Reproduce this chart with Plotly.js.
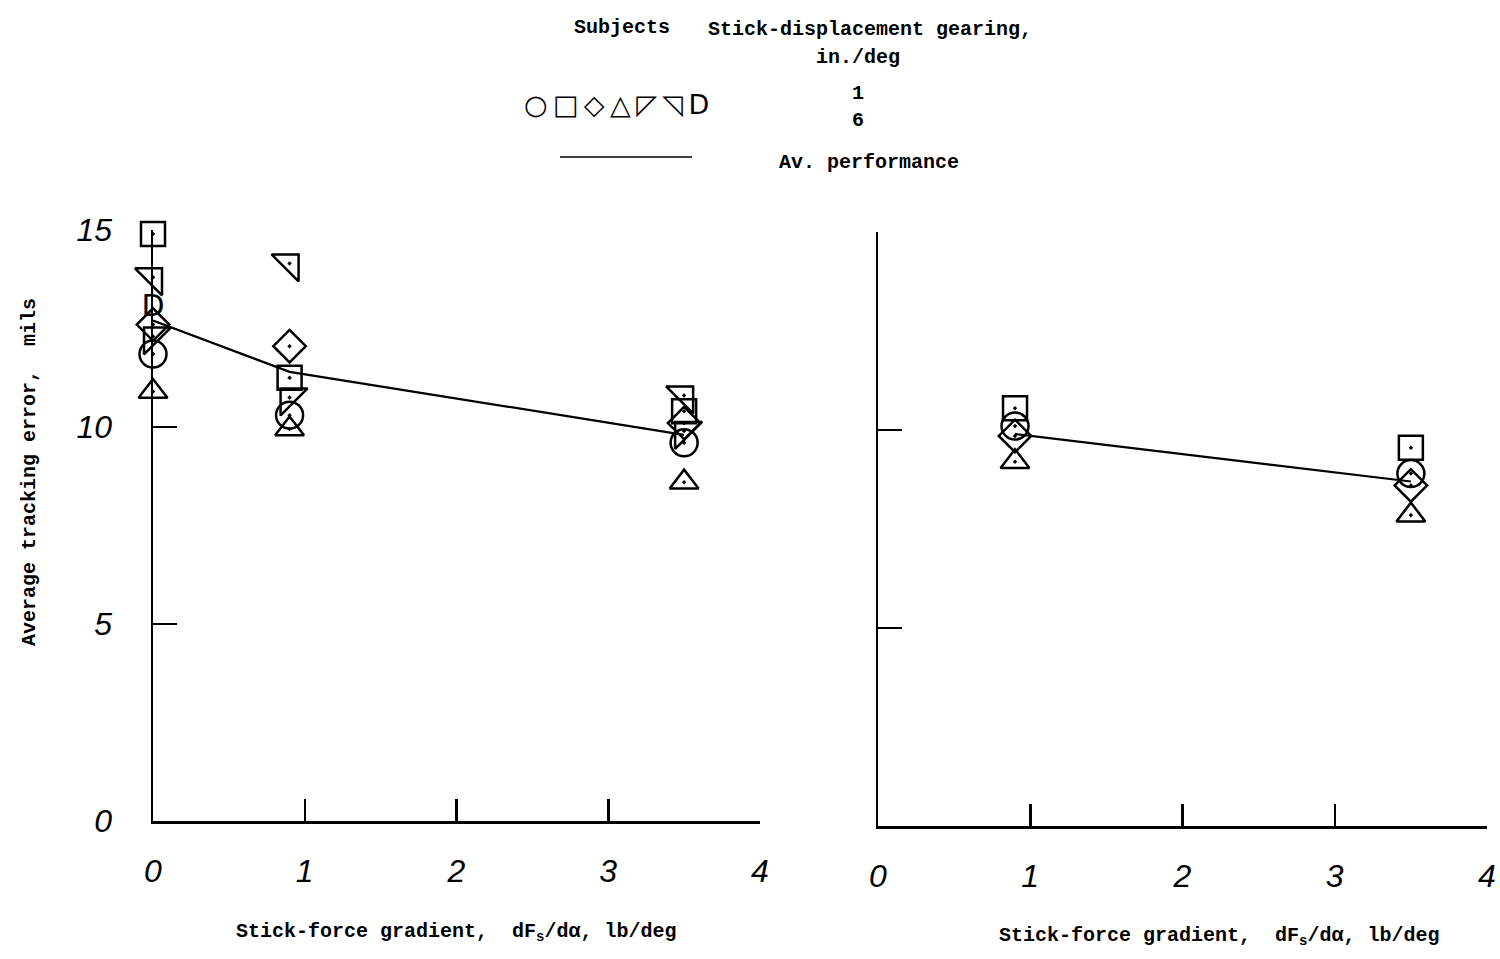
<!DOCTYPE html>
<html>
<head>
<meta charset="utf-8">
<script src="https://cdn.plot.ly/plotly-3.0.1.min.js"></script>
<style>html,body{margin:0;padding:0;background:#fff;}#chart{width:1500px;height:959px;}</style>
</head>
<body>
<div id="chart"></div>
<script>
// ---- data ----
const subjectNames = ["Subject 1", "Subject 2", "Subject 3", "Subject 4", "Subject 5", "Subject 6", "Subject 7"];
const subjectSymbols = ["circle-open-dot", "square-open-dot", "diamond-open-dot", "triangle-up-open-dot", "triangle-nw-open-dot", "triangle-ne-open-dot", "D"];

// Left panel: stick-force gradient (lb/deg) and tracking error (mils)
const leftX = [0, 0.9, 3.5];
const leftCircle   = [11.85, 10.3, 9.6];
const leftSquare   = [14.9, 11.25, 10.4];
const leftDiamond  = [12.6, 12.05, 10.1];
const leftTriangle = [10.9, 9.95, 8.6];
const leftTriNW    = [12.3, 10.75, 9.9];
const leftTriNE    = [13.8, 14.15, 10.8];
const leftDX = [0];
const leftD  = [13.0];
const leftAvg = [12.7, 11.4, 9.8];

// Right panel
const rightX = [0.9, 3.5];
const rightCircle   = [10.1, 8.9];
const rightSquare   = [10.55, 9.55];
const rightDiamond  = [9.85, 8.6];
const rightTriangle = [9.2, 7.85];
const rightAvg = [9.9, 8.7];

const xTicks = [0, 1, 2, 3, 4];
const xTickText = ["0", "1", "2", "3", "4"];
const yTicks = [0, 5, 10, 15];
const yTickText = ["0", "5", "10", "15"];

// ---- traces ----
const markerLine = 2.5;
function pts(x, y, sym, size, xa, ya, name) {
  return {
    type: "scatter", mode: "markers", x: x, y: y, name: name,
    xaxis: xa, yaxis: ya, cliponaxis: false, showlegend: false, hoverinfo: "x+y",
    marker: { symbol: sym, size: size, color: "#000", line: { width: markerLine, color: "#000" } }
  };
}
function avg(x, y, xa, ya) {
  return {
    type: "scatter", mode: "lines", x: x, y: y, xaxis: xa, yaxis: ya,
    line: { color: "#000", width: 2.2 }, showlegend: false, hoverinfo: "skip"
  };
}

const traces = [
  avg(leftX, leftAvg, "x", "y"),
  pts(leftX, leftCircle, subjectSymbols[0], 27, "x", "y", subjectNames[0]),
  pts(leftX, leftSquare, subjectSymbols[1], 24, "x", "y", subjectNames[1]),
  pts(leftX, leftDiamond, subjectSymbols[2], 25, "x", "y", subjectNames[2]),
  pts(leftX, leftTriangle, subjectSymbols[3], 25, "x", "y", subjectNames[3]),
  pts(leftX, leftTriNW, subjectSymbols[4], 30, "x", "y", subjectNames[4]),
  pts(leftX, leftTriNE, subjectSymbols[5], 30, "x", "y", subjectNames[5]),
  {
    type: "scatter", mode: "text", x: leftDX, y: leftD, text: leftDX.map(() => subjectSymbols[6]),
    xaxis: "x", yaxis: "y", cliponaxis: false, showlegend: false,
    textfont: { family: "DejaVu Sans", size: 30, color: "#000" }, textposition: "middle center"
  },
  avg(rightX, rightAvg, "x2", "y2"),
  pts(rightX, rightCircle, subjectSymbols[0], 27, "x2", "y2", subjectNames[0]),
  pts(rightX, rightSquare, subjectSymbols[1], 24, "x2", "y2", subjectNames[1]),
  pts(rightX, rightDiamond, subjectSymbols[2], 25, "x2", "y2", subjectNames[2]),
  pts(rightX, rightTriangle, subjectSymbols[3], 25, "x2", "y2", subjectNames[3])
];

// ---- layout ----
const tickFont = { family: "Liberation Sans", size: 32, color: "#000", style: "italic" };
const typeFont = { family: "Liberation Mono", size: 20, color: "#000", weight: "bold" };

function xAxis(domain, anchor) {
  return {
    domain: domain, anchor: anchor, range: [0, 4], tickvals: xTicks, ticktext: xTickText,
    showline: true, linecolor: "#000", linewidth: 2.5, ticks: "inside", ticklen: 22,
    tickwidth: 2.5, tickcolor: "#000", showgrid: false, zeroline: false,
    tickfont: tickFont, ticklabelstandoff: 20, fixedrange: true
  };
}
function yAxis(domain, anchor, labels) {
  return {
    domain: domain, anchor: anchor, range: [0, 15], tickvals: yTicks, ticktext: yTickText,
    showline: true, linecolor: "#000", linewidth: 2.5, ticks: "inside", ticklen: 24,
    tickwidth: 2.5, tickcolor: "#000", showgrid: false, zeroline: false,
    showticklabels: labels, tickfont: tickFont, ticklabelstandoff: 32, fixedrange: true
  };
}

const P = (px) => px / 1500;
const Q = (py) => 1 - py / 959;
function note(text, px, py, extra) {
  return Object.assign({
    text: text, x: P(px), y: Q(py), xref: "paper", yref: "paper", showarrow: false,
    xanchor: "center", yanchor: "middle", font: typeFont
  }, extra || {});
}

const layout = {
  width: 1500, height: 959,
  margin: { l: 0, r: 0, t: 0, b: 0 },
  paper_bgcolor: "#fff", plot_bgcolor: "rgba(0,0,0,0)",
  showlegend: false,
  xaxis: xAxis([P(153), P(760)], "y"),
  yaxis: yAxis([138 / 959, 729 / 959], "x", true),
  xaxis2: xAxis([P(878), P(1487)], "y2"),
  yaxis2: yAxis([133 / 959, 727 / 959], "x2", false),
  shapes: [
    { type: "line", xref: "paper", yref: "paper", x0: P(560), x1: P(692), y0: Q(157), y1: Q(157),
      line: { color: "#000", width: 1.5 } }
  ],
  annotations: [
    note("Subjects", 622, 28),
    note("Stick-displacement gearing,", 870, 30),
    note("in./deg", 858, 57),
    note("○\u2009□\u2009◇\u2009△\u2009◸\u2009◹\u2009D", 616, 105, { font: { family: "DejaVu Sans", size: 27, color: "#000" } }),
    note("1", 858, 94),
    note("6", 858, 121),
    note("Av. performance", 869, 162),
    note("Stick-force gradient,  dF<sub>s</sub>/dα, lb/deg", 457, 932),
    note("Stick-force gradient,  dF<sub>s</sub>/dα, lb/deg", 1219, 936),
    note("Average tracking error,  mils", 29, 472, { textangle: -90 })
  ]
};

Plotly.newPlot("chart", traces, layout, { staticPlot: true, displayModeBar: false });
</script>
</body>
</html>
